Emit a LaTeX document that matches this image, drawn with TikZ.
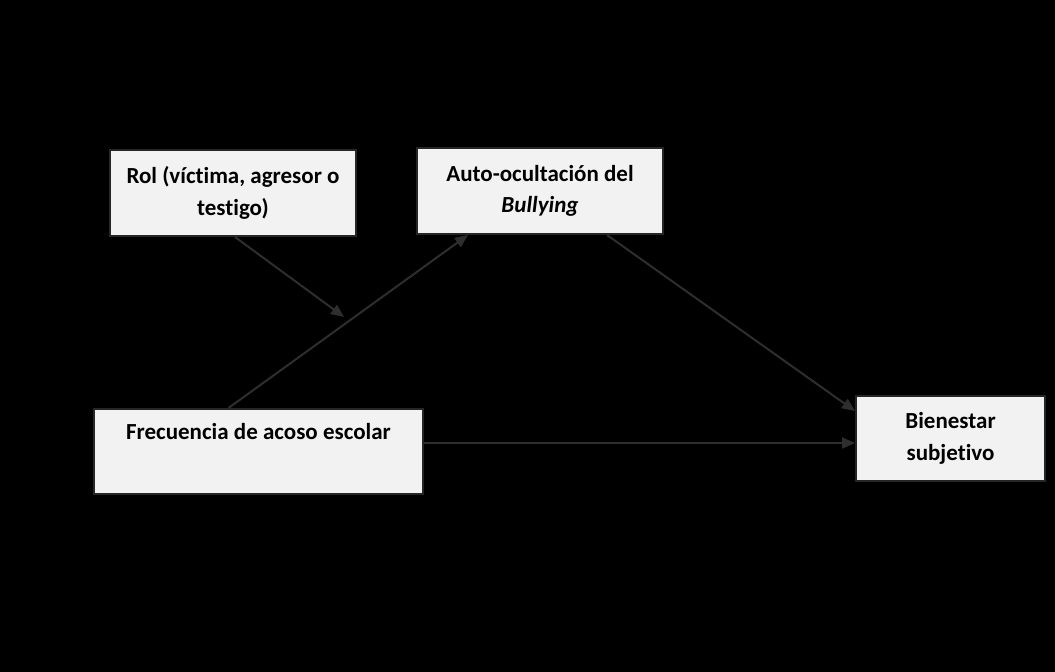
\documentclass[tikz,border=0pt]{standalone}
\usepackage{fontspec}
\setmainfont[Ligatures=NoCommon]{Carlito}
\usetikzlibrary{arrows.meta,calc}
\definecolor{boxfill}{HTML}{F2F2F2}
\definecolor{edge}{HTML}{262626}
\definecolor{arr}{HTML}{2E2E2E}
\tikzset{
  varbox/.style={draw=edge, line width=2pt, fill=boxfill, rectangle, inner sep=0pt,
    align=center, font=\fontsize{23}{31.5}\selectfont\bfseries, text=black},
  conn/.style={draw=arr, line width=2pt, -{Triangle[length=13pt,width=11pt]}}
}
\begin{document}
\begin{tikzpicture}[x=1pt,y=-1pt]
\fill[black] (0,0) rectangle (1055,672);
\useasboundingbox (0,0) rectangle (1055,672);
\node[varbox, minimum width=246pt, minimum height=86pt] (rol) at (233,193) {Rol (víctima, agresor o\\testigo)};
\node[varbox, minimum width=246pt, minimum height=86pt] (auto) at (540,191) {Auto-ocultación del\\\textit{Bullying}};
\node[varbox, minimum width=329pt, minimum height=85pt] (frec) at (258.5,451.5) {Frecuencia de acoso escolar\\\strut};
\node[varbox, minimum width=189pt, minimum height=85pt] (bien) at (950.5,438.5) {Bienestar\\subjetivo};
\coordinate (mod) at (344,317);
\draw[conn] ([xshift=2pt]rol.south) -- (mod);
\draw[conn] ([xshift=-30pt]frec.north) -- ([xshift=-72pt]auto.south);
\draw[conn] ([xshift=67pt]auto.south) -- ([yshift=27.5pt]bien.west);
\draw[conn] ([yshift=8.5pt]frec.east) -- ([yshift=8.5pt]frec.east -| bien.west);
\end{tikzpicture}
\end{document}
